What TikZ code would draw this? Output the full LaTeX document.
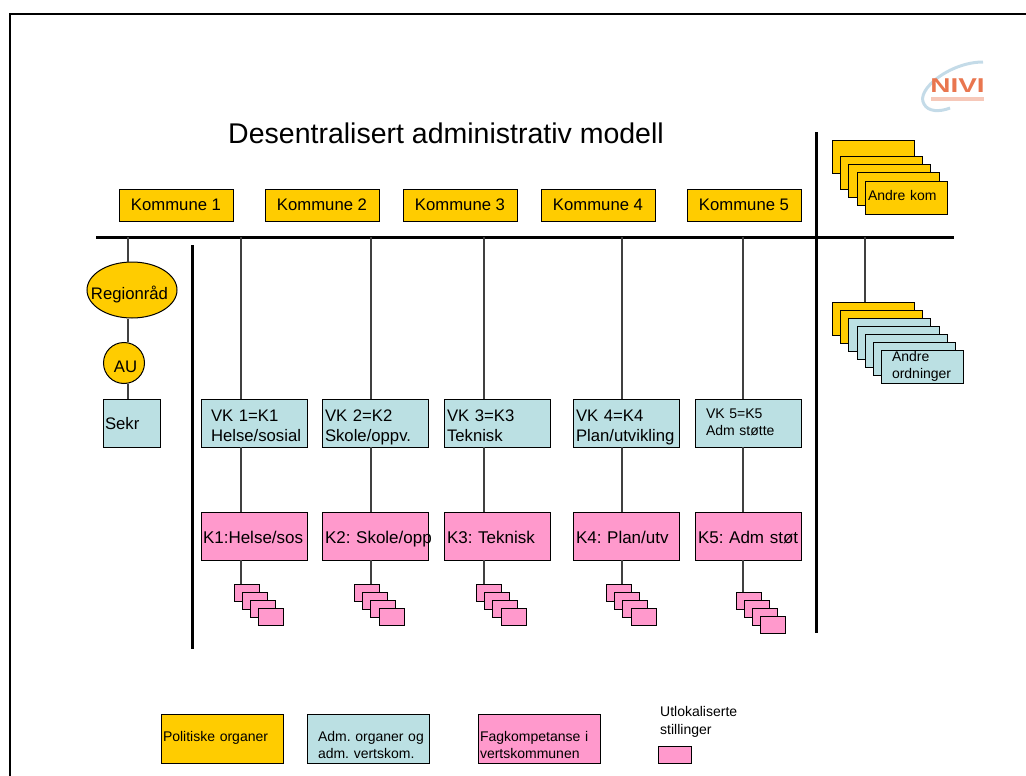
\documentclass[tikz,border=0pt]{standalone}
\usepackage{fontspec}
\setmainfont{Liberation Sans}
\usepackage{tikz}
\usetikzlibrary{shapes.geometric}
\frenchspacing
\definecolor{gul}{HTML}{FFCC00}
\definecolor{blaa}{HTML}{BBE0E3}
\definecolor{rosa}{HTML}{FF99CC}
\definecolor{logored}{HTML}{E9764F}
\definecolor{logoblue}{HTML}{C4DBE8}
\tikzstyle{boks} = [draw=black, line width=1pt, rectangle, inner sep=0pt, outer sep=0pt, anchor=north west]
\tikzstyle{kommune} = [boks, fill=gul, minimum width=114pt, minimum height=32pt, font=\fontsize{16.7}{20}\selectfont]
\tikzstyle{vkboks} = [boks, fill=blaa, text width=106pt, minimum height=48pt, align=left, font=\fontsize{16.7}{20}\selectfont, text height=13pt, text depth=17pt]
\tikzstyle{fagboks} = [boks, fill=rosa, text width=106pt, minimum height=48pt, align=left, font=\fontsize{17}{20}\selectfont, text height=22pt, text depth=8pt]
\tikzstyle{stilling} = [boks, fill=rosa, minimum width=25pt, minimum height=17pt]
\tikzstyle{andreboks} = [boks, minimum width=82pt, minimum height=33pt]
\tikzstyle{legende} = [boks, text width=122pt, minimum height=49pt, align=left, font=\fontsize{14}{17}\selectfont, text height=17.5pt, text depth=12.5pt]
\tikzstyle{linje} = [draw=black!75, line width=1.2pt]
\tikzstyle{tykk} = [draw=black, line width=3pt]

\begin{document}
\begin{tikzpicture}[x=1pt,y=-1pt]
		\useasboundingbox (0,0) rectangle (1026,776);
		%frame
		\coordinate (hjorne) at (10,14);
		\coordinate (hoyre) at (1026,14);
		\coordinate (bunn) at (10,776);
		\draw [line width=2pt] (hoyre) -- (hjorne) -- (bunn);
		
		\node [anchor=west, font=\fontsize{28.5}{32}\selectfont] (tittel) at (224.7,133) {Desentralisert administrativ modell};
		
		%logo
		\draw [logoblue, line width=3pt] (983,62) .. controls (950,62) and (915,90) .. (924,104) .. controls (928,112) and (940,112) .. (950,108);
		\node [text=logored, anchor=west, inner sep=0pt, xscale=1.4, font=\fontsize{20}{20}\selectfont\bfseries] (logo) at (930,86) {NIVI};
		\fill [logored!40] (931,97) rectangle (984,101);
		
		\node [kommune] (k1) at (119,189) {Kommune 1};
		\node [kommune] (k2) at (265,189) {Kommune 2};
		\node [kommune] (k3) at (403,189) {Kommune 3};
		\node [kommune] (k4) at (541,189) {Kommune 4};
		\node [kommune] (k5) at (687,189) {Kommune 5};
		
		%thick lines
		\coordinate (hv) at (96,237);
		\coordinate (hh) at (954,237);
		\coordinate (v1a) at (192,245);
		\coordinate (v1b) at (192,649);
		\coordinate (v2a) at (816,132);
		\coordinate (v2b) at (816,633);
		\draw [tykk] (hv) -- (hh);
		\draw [tykk] (v1a) -- (v1b);
		\draw [tykk] (v2a) -- (v2b);
		
		%left column
		\node [ellipse, draw=black, line width=1pt, fill=gul, inner sep=0pt, minimum width=90pt, minimum height=56pt, font=\fontsize{16.7}{20}\selectfont] (regionraad) at (132,290) {\makebox[0pt]{\raisebox{-9pt}[0pt][0pt]{Regionråd}\hspace*{5pt}}};
		\node [circle, draw=black, line width=1pt, fill=gul, inner sep=0pt, minimum size=41pt, font=\fontsize{16.7}{20}\selectfont] (au) at (124,363) {\makebox[0pt]{\hspace*{3pt}\raisebox{-9pt}[0pt][0pt]{AU}}};
		\node [boks, fill=blaa, text width=57pt, minimum height=48pt, align=left, font=\fontsize{16.7}{20}\selectfont, text height=21pt, text depth=9pt] (sekr) at (103,399) {\hspace*{2pt}Sekr};
		
		\node [vkboks] (vk1) at (201,399) {\hspace*{10pt}VK 1=K1\\\hspace*{10pt}Helse/sosial};
		\node [vkboks] (vk2) at (322,399) {\hspace*{3pt}VK 2=K2\\\hspace*{3pt}Skole/oppv.};
		\node [vkboks] (vk3) at (444,399) {\hspace*{3pt}VK 3=K3\\\hspace*{3pt}Teknisk};
		\node [vkboks] (vk4) at (573,399) {\hspace*{3pt}VK 4=K4\\\hspace*{3pt}Plan/utvikling};
		\node [vkboks, text height=10pt, text depth=20pt, font=\fontsize{14}{17}\selectfont] (vk5) at (695,399) {\hspace*{11pt}VK 5=K5\\\hspace*{11pt}Adm støtte};
		
		\node [fagboks] (f1) at (201,512) {\hspace*{2pt}K1:Helse/sos};
		\node [fagboks] (f2) at (322,512) {\hspace*{3pt}K2:~Skole/opp};
		\node [fagboks] (f3) at (444,512) {\hspace*{3pt}K3: Teknisk};
		\node [fagboks] (f4) at (573,512) {\hspace*{3pt}K4: Plan/utv};
		\node [fagboks] (f5) at (695,512) {\hspace*{3pt}K5: Adm støt};
		
		%small boxes
		\node [stilling] (s1a) at (234,584) {};
		\node [stilling] (s1b) at (242,592) {};
		\node [stilling] (s1c) at (250,600) {};
		\node [stilling] (s1d) at (258,608) {};
		\node [stilling] (s2a) at (354,584) {};
		\node [stilling] (s2b) at (362,592) {};
		\node [stilling] (s2c) at (370,600) {};
		\node [stilling] (s2d) at (379,608) {};
		\node [stilling] (s3a) at (476,584) {};
		\node [stilling] (s3b) at (484,592) {};
		\node [stilling] (s3c) at (492,600) {};
		\node [stilling] (s3d) at (501,608) {};
		\node [stilling] (s4a) at (606,584) {};
		\node [stilling] (s4b) at (614,592) {};
		\node [stilling] (s4c) at (622,600) {};
		\node [stilling] (s4d) at (631,608) {};
		\node [stilling] (s5a) at (736,592) {};
		\node [stilling] (s5b) at (744,600) {};
		\node [stilling] (s5c) at (752,608) {};
		\node [stilling] (s5d) at (760,616) {};
		
		%connectors
		\coordinate (t0) at (128,237);
		\coordinate (t1) at (241,237);
		\coordinate (t2) at (371,237);
		\coordinate (t3) at (484,237);
		\coordinate (t4) at (622,237);
		\coordinate (t5) at (743,237);
		\coordinate (t6) at (865,237);
		\draw [linje] (t0) -- (t0 |- regionraad.north);
		\draw [linje] (t0 |- regionraad.south) -- (t0 |- au.north);
		\draw [linje] (t0 |- au.south) -- (t0 |- sekr.north);
		\draw [linje] (t1) -- (t1 |- vk1.north);
		\draw [linje] (t1 |- vk1.south) -- (t1 |- f1.north);
		\draw [linje] (t1 |- f1.south) -- (t1 |- s1a.north);
		\draw [linje] (t2) -- (t2 |- vk2.north);
		\draw [linje] (t2 |- vk2.south) -- (t2 |- f2.north);
		\draw [linje] (t2 |- f2.south) -- (t2 |- s2a.north);
		\draw [linje] (t3) -- (t3 |- vk3.north);
		\draw [linje] (t3 |- vk3.south) -- (t3 |- f3.north);
		\draw [linje] (t3 |- f3.south) -- (t3 |- s3a.north);
		\draw [linje] (t4) -- (t4 |- vk4.north);
		\draw [linje] (t4 |- vk4.south) -- (t4 |- f4.north);
		\draw [linje] (t4 |- f4.south) -- (t4 |- s4a.north);
		\draw [linje] (t5) -- (t5 |- vk5.north);
		\draw [linje] (t5 |- vk5.south) -- (t5 |- f5.north);
		\draw [linje] (t5 |- f5.south) -- (t5 |- s5a.north);
		
		%right side
		\node [andreboks, fill=gul] (a1) at (832,140) {};
		\node [andreboks, fill=gul] (a2) at (840,156) {};
		\node [andreboks, fill=gul] (a3) at (848,164) {};
		\node [andreboks, fill=gul] (a4) at (857,172) {};
		\node [andreboks, fill=gul, text width=82pt, align=left, font=\fontsize{14}{17}\selectfont, text height=17.5pt, text depth=12.5pt] (a5) at (865,181) {\hspace*{3pt}Andre kom};
		
		\node [andreboks, fill=gul] (o1) at (832,302) {};
		\node [andreboks, fill=gul] (o2) at (840,310) {};
		\node [andreboks, fill=blaa] (o3) at (848,318) {};
		\node [andreboks, fill=blaa] (o4) at (857,326) {};
		\node [andreboks, fill=blaa] (o5) at (865,334) {};
		\node [andreboks, fill=blaa] (o6) at (873,342) {};
		\node [andreboks, fill=blaa, text width=82pt, align=left, font=\fontsize{14}{17}\selectfont, text height=9.5pt, text depth=20.5pt] (o7) at (881,350) {\hspace*{11pt}Andre\\\hspace*{11pt}ordninger};
		\draw [linje] (t6) -- (t6 |- o1.north);
		
		%legend
		\node [legende, fill=gul] (lg1) at (161,714) {\hspace*{2pt}Politiske organer};
		\node [legende, fill=blaa] (lg2) at (307,714) {\hspace*{11pt}Adm. organer og\\\hspace*{11pt}adm. vertskom.};
		\node [legende, fill=rosa] (lg3) at (478,714) {\hspace*{2pt}Fagkompetanse i\\\hspace*{2pt}vertskommunen};
		\node [anchor=north west, inner sep=0pt, align=left, font=\fontsize{14}{18}\selectfont] (lg4) at (660,706) {Utlokaliserte\\stillinger};
		\node [boks, fill=rosa, minimum width=33pt, minimum height=17pt] (lg5) at (658,746) {};
\end{tikzpicture}
\end{document}
